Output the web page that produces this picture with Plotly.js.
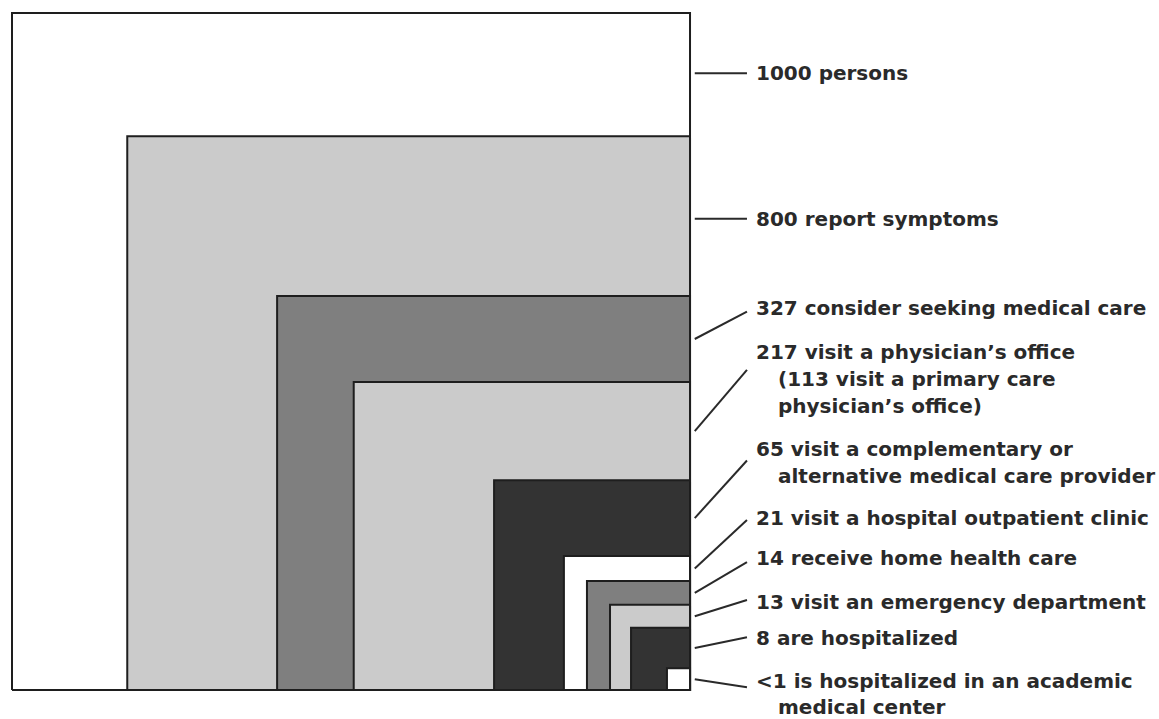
<!DOCTYPE html>
<html>
<head>
<meta charset="utf-8">
<script src="https://cdn.plot.ly/plotly-3.0.1.min.js"></script>
<style>html,body{margin:0;padding:0;background:#fff;}#chart{width:1159px;height:719px;}</style>
</head>
<body>
<div id="chart"></div>
<script>
// ---- data ----
const counts = ["1000", "800", "327", "217", "65", "21", "14", "13", "8", "<1"];
const labelLines = [
  ["1000 persons"],
  ["800 report symptoms"],
  ["327 consider seeking medical care"],
  ["217 visit a physician\u2019s office", "(113 visit a primary care", "physician\u2019s office)"],
  ["65 visit a complementary or", "alternative medical care provider"],
  ["21 visit a hospital outpatient clinic"],
  ["14 receive home health care"],
  ["13 visit an emergency department"],
  ["8 are hospitalized"],
  ["<1 is hospitalized in an academic", "medical center"]
];
// drawn box size, as a share of the outer box (outer = 100)
const boxWidth  = [100, 83.0, 60.9, 49.6, 28.9, 18.6, 15.2, 11.8, 8.7, 3.4];
const boxHeight = [100, 81.8, 58.2, 45.5, 31.0, 19.8, 16.1, 12.6, 9.2, 3.2];

// ---- styles / layout ----
const boxFill = ["#ffffff", "#cbcbcb", "#7f7f7f", "#cbcbcb", "#333333", "#ffffff", "#7f7f7f", "#cbcbcb", "#333333", "#ffffff"];
const labelY = [91.1, 69.6, 56.4, 49.9, 35.6, 25.4, 19.5, 13.0, 7.7, 1.4];
const leaderEndY = [91.1, 69.6, 55.9, 47.3, 33.9, 25.1, 18.9, 13.3, 7.8, 0.4];
const leaderStartY = [91.1, 69.6, null, null, null, null, null, null, null, null]; // horizontal leaders
const lineStep = 3.95;  // data units between text lines
const rightEdge = 100;
const leaderX0 = 100.7, leaderX1 = 108.4, labelX = 109.6, indentPx = 22;

const traces = [];
boxWidth.forEach((w, i) => {
  const h = boxHeight[i];
  traces.push({
    type: "scatter", mode: "lines",
    x: [rightEdge - w, rightEdge, rightEdge, rightEdge - w, rightEdge - w],
    y: [0, 0, h, h, 0],
    fill: "toself", fillcolor: boxFill[i],
    line: {color: "#1e1e1e", width: 2},
    name: counts[i], hoverinfo: "skip", showlegend: false
  });
});
// leader lines: start in the visible band of each box
boxHeight.forEach((h, i) => {
  const next = i + 1 < boxHeight.length ? boxHeight[i + 1] : 0;
  const yStart = leaderStartY[i] !== null ? leaderStartY[i] : (h + next) / 2;
  traces.push({
    type: "scatter", mode: "lines",
    x: [leaderX0, leaderX1], y: [yStart, leaderEndY[i]],
    line: {color: "#2a2a2a", width: 2},
    hoverinfo: "skip", showlegend: false
  });
});

const annotations = [];
labelLines.forEach((lines, i) => {
  lines.forEach((t, k) => {
    annotations.push({
      xref: "x", yref: "y", x: labelX, y: labelY[i] - k * lineStep,
      xanchor: "left", yanchor: "middle", showarrow: false, borderpad: 0,
      xshift: k > 0 ? indentPx : 0,
      text: t.replace(/</g, "&lt;"),
      font: {family: "DejaVu Sans", size: 20, color: "#2a2a2a", weight: "bold"}
    });
  });
});

const layout = {
  width: 1159, height: 719,
  margin: {l: 0, r: 0, t: 0, b: 0},
  paper_bgcolor: "#ffffff", plot_bgcolor: "#ffffff",
  xaxis: {range: [-1.77, 169.17], visible: false, fixedrange: true},
  yaxis: {range: [-4.28, 101.92], visible: false, fixedrange: true},
  annotations: annotations,
  showlegend: false
};
Plotly.newPlot("chart", traces, layout, {staticPlot: true, displayModeBar: false});
</script>
</body>
</html>
